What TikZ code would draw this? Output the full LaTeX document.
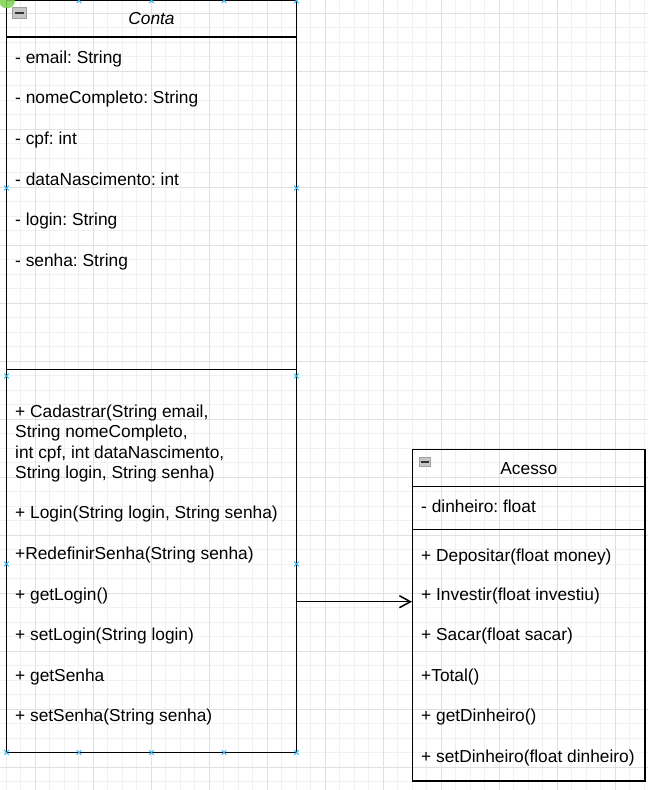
\documentclass[tikz,border=0pt]{standalone}
\usepackage{fontspec}
\setmainfont{Liberation Sans}
\usetikzlibrary{arrows.meta}
\frenchspacing
\definecolor{gridmaj}{RGB}{224,224,224}
\definecolor{gridmin}{RGB}{241,241,241}
\definecolor{selblue}{RGB}{41,182,242}
\definecolor{handlegreen}{RGB}{126,211,80}
\tikzset{
  umlbox/.style={draw=black, line width=1.5bp, inner sep=0, fill=none},
  sepline/.style={draw=black, line width=1.5bp},
  member/.style={anchor=base west, inner sep=0, font=\fontsize{17.4}{20.3}\selectfont},
  title/.style={anchor=base, inner sep=0, font=\fontsize{17.4}{20.3}\selectfont},
  assoc/.style={draw=black, line width=1.5bp, -{Straight Barb[length=11bp,width=12bp,line width=1.5bp]}},
  minusicon/.style={fill=gray!45, draw=gray!75, line width=0.8bp},
  minusbar/.style={draw=black!80, line width=1.6bp},
  selmark/.style={draw=selblue, line width=0.9bp}
}
\begin{document}
\begin{tikzpicture}[x=1bp,y=-1bp]
\useasboundingbox (0,0) rectangle (648,790);
% grid
\foreach \i in {0,...,44} {\draw[gridmin, line width=1bp] ({6.3+14.5*\i},0) -- ({6.3+14.5*\i},790);}
\foreach \i in {1,...,54} {\draw[gridmin, line width=1bp] (0,{-1.2+14.5*\i}) -- (648,{-1.2+14.5*\i});}
\foreach \i in {0,...,10} {\draw[gridmaj, line width=1bp] ({35.3+58*\i},0) -- ({35.3+58*\i},790);}
\foreach \i in {0,...,13} {\draw[gridmaj, line width=1bp] (0,{13.3+58*\i}) -- (648,{13.3+58*\i});}

% Conta class
\node[umlbox, minimum width=290bp, minimum height=751.8bp] (conta) at (151.5,376.6) {};
\draw[sepline] (6.5,36.8) -- (296.5,36.8);
\draw[sepline] (6.5,369.3) -- (296.5,369.3);
\draw[minusicon] (12.7,7.3) rectangle (26,18.3);
\draw[minusbar] (14.8,12.8) -- (23.9,12.8);
\node[title, font=\fontsize{17.4}{20.3}\selectfont\itshape] (contat) at (151.5,25) {Conta};

\node[member] (a1) at (15,63.3) {- email: String};
\node[member] (a2) at (15,103.9) {- nomeCompleto: String};
\node[member] (a3) at (15,144.5) {- cpf: int};
\node[member] (a4) at (15,185.1) {- dataNascimento: int};
\node[member] (a5) at (15,225.7) {- login: String};
\node[member] (a6) at (15,266.3) {- senha: String};

\node[member] (m1a) at (15,417.4) {+ Cadastrar(String email,};
\node[member] (m1b) at (15,437.7) {String nomeCompleto,};
\node[member] (m1c) at (15,458.0) {int cpf, int dataNascimento,};
\node[member] (m1d) at (15,478.3) {String login, String senha)};
\node[member] (m2) at (15,518.9) {+ Login(String login, String senha)};
\node[member] (m3) at (15,559.5) {+RedefinirSenha(String senha)};
\node[member] (m4) at (15,600.1) {+ getLogin()};
\node[member] (m5) at (15,640.7) {+ setLogin(String login)};
\node[member] (m6) at (15,681.3) {+ getSenha};
\node[member] (m7) at (15,721.9) {+ setSenha(String senha)};

% Acesso class
\node[umlbox, minimum width=232.3bp, minimum height=331.7bp] (acesso) at (528.85,615.15) {};
\draw[sepline] (412.7,486.7) -- (645,486.7);
\draw[sepline] (412.7,529.3) -- (645,529.3);
\draw[minusicon] (419.3,457.3) rectangle (430.7,466.8);
\draw[minusbar] (421.2,461.9) -- (428.8,461.9);
\node[title] (acessot) at (528.85,474.3) {Acesso};
\node[member] (b1) at (421,512.5) {- dinheiro: float};
\node[member] (c1) at (421,561.0) {+ Depositar(float money)};
\node[member] (c2) at (421,600.1) {+ Investir(float investiu)};
\node[member] (c3) at (421,640.7) {+ Sacar(float sacar)};
\node[member] (c4) at (421,681.3) {+Total()};
\node[member] (c5) at (421,721.9) {+ getDinheiro()};
\node[member] (c6) at (421,762.5) {+ setDinheiro(float dinheiro)};

% association
\coordinate (ay) at (0,601.7);
\draw[assoc] (conta.east |- ay) -- (acesso.west |- ay);

% selection markers
\foreach \x/\y in {79/0.7,151.5/0.7,224/0.7,296.5/0.7,
  6.5/752.5,79/752.5,151.5/752.5,224/752.5,296.5/752.5,
  6.5/188,6.5/376,6.5/564,296.5/188,296.5/376,296.5/564}
  {\draw[selmark] ({\x-2.3},{\y-2.3}) -- ({\x+2.3},{\y+2.3}) ({\x-2.3},{\y+2.3}) -- ({\x+2.3},{\y-2.3});}
\fill[handlegreen, opacity=0.85] (7,0.5) circle (8);
\end{tikzpicture}
\end{document}
